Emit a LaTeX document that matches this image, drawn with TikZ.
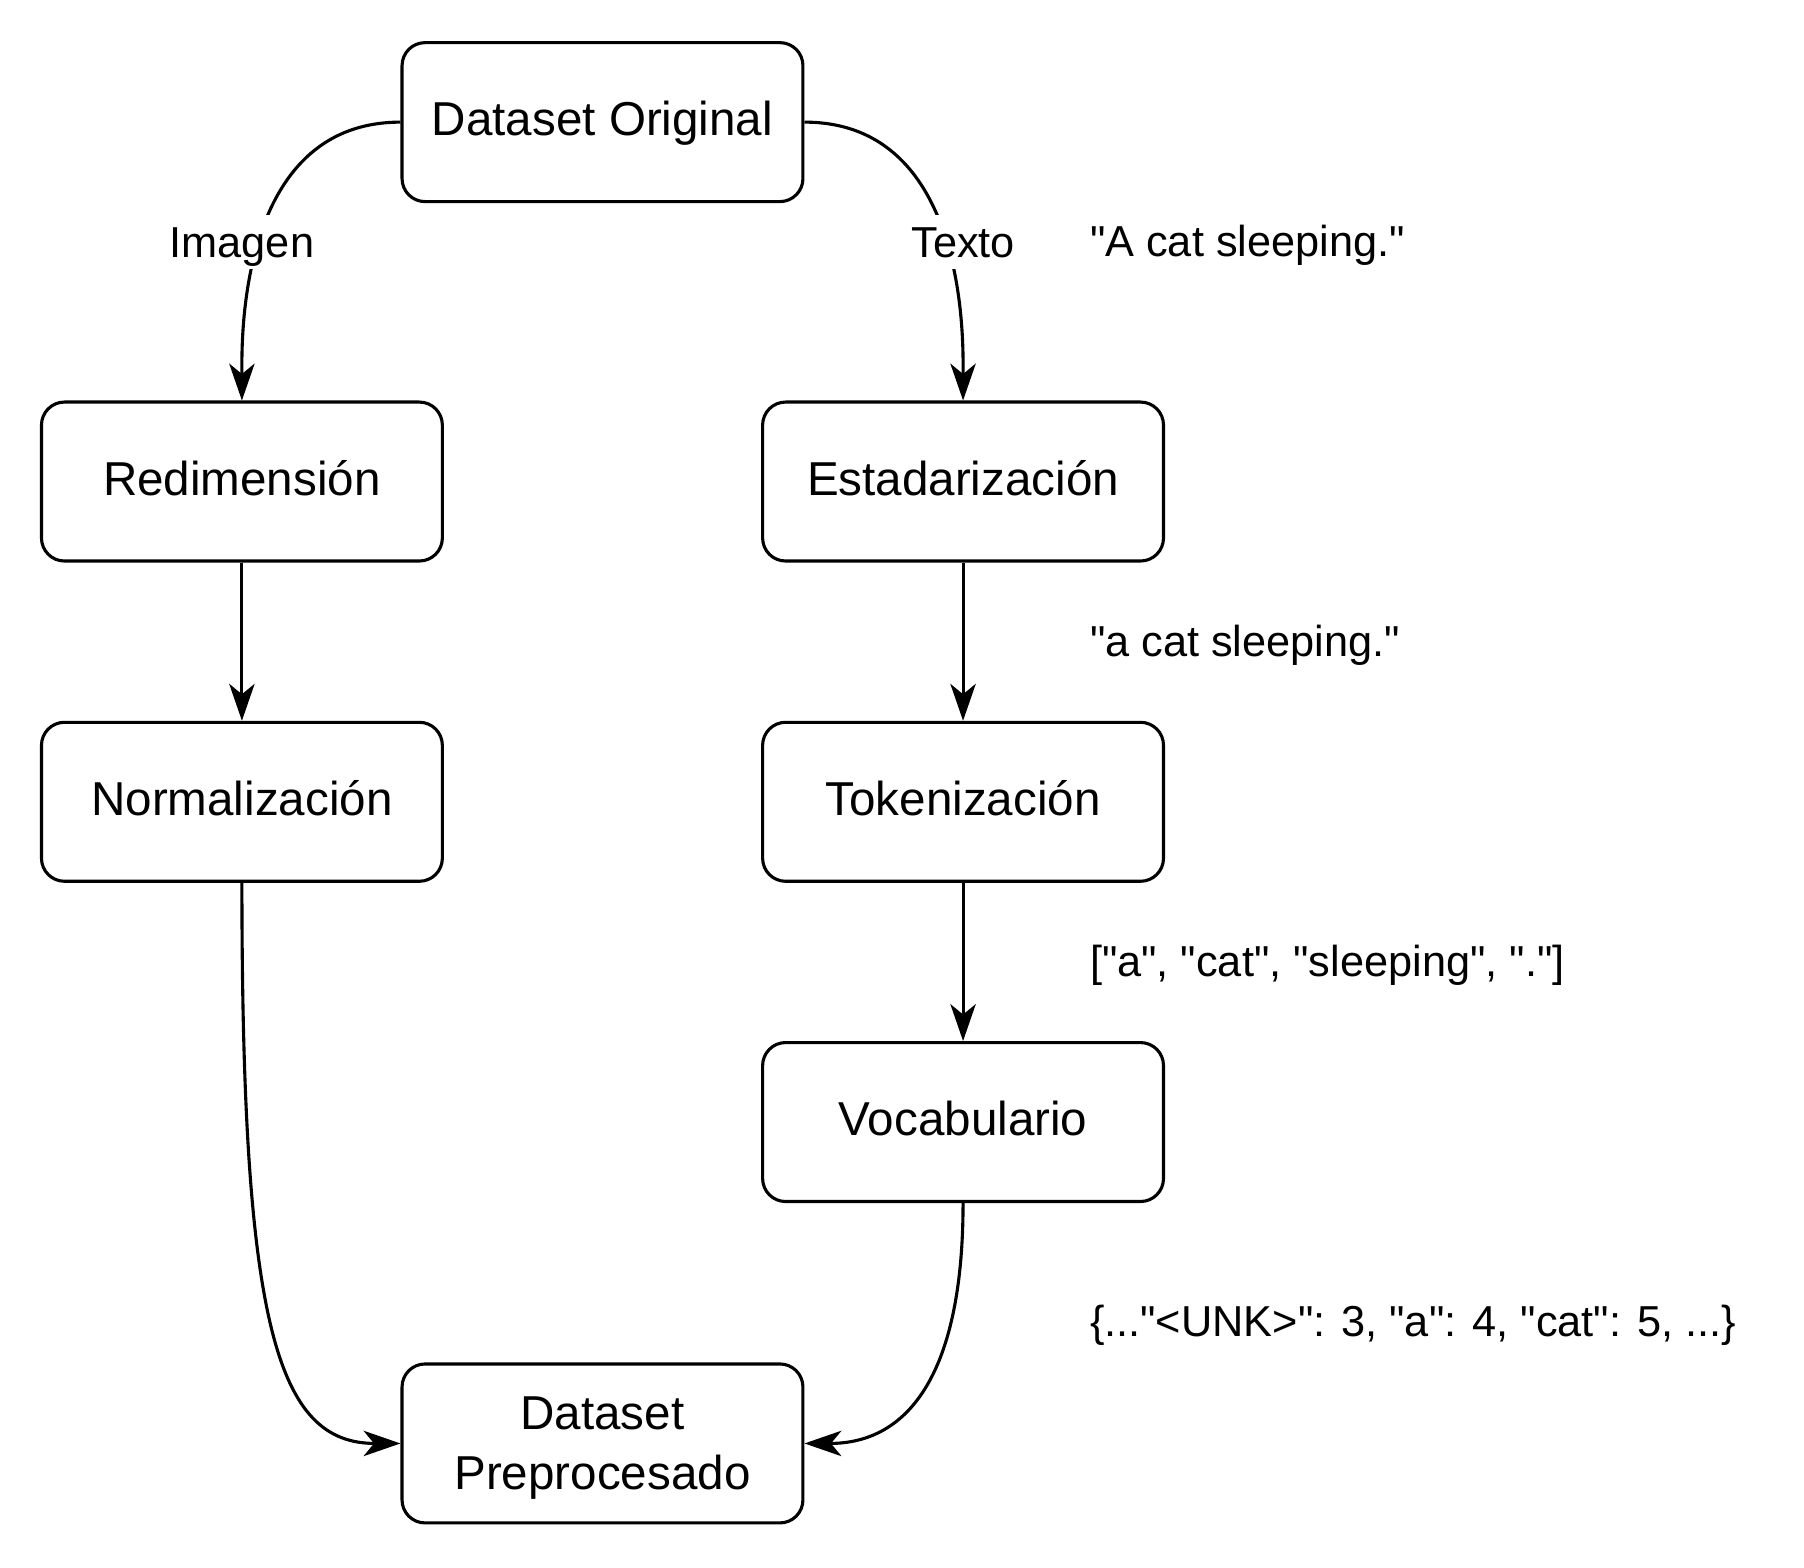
\documentclass[tikz,border=0pt]{standalone}
\usepackage{fontspec}
\setmainfont{Liberation Sans}[Ligatures=TeXOff]
\usetikzlibrary{arrows.meta}
\newcommand\boxfnt{\fontsize{41.3pt}{52pt}\selectfont}
\newcommand\lblfnt{\fontsize{37.6pt}{45pt}\selectfont}
\tikzset{
  procbox/.style={draw, line width=2.7pt, rounded corners=20pt, minimum width=348pt,
    minimum height=138pt, inner sep=0pt, font=\boxfnt, text height=23.6pt, text depth=0pt},
  edgelbl/.style={fill=white, font=\lblfnt, text height=26.9pt, text depth=0pt, inner xsep=4pt, inner ysep=10pt},
  note/.style={anchor=west, font=\lblfnt, text height=25pt, text depth=0pt, inner sep=0pt},
  conn/.style={line width=2.7pt, -{Stealth[length=32pt, width=22pt, inset=9pt]}}
}
\begin{document}
\begin{tikzpicture}[x=1pt, y=-1pt]
\useasboundingbox (0,0) rectangle (1566,1361);
\node[procbox] (orig) at (523,106) {Dataset Original};
\node[procbox] (redim) at (210,418) {Redimensión};
\node[procbox] (norm) at (210,696) {Normalización};
\node[procbox] (estad) at (836,418) {Estadarización};
\node[procbox] (token) at (836,696) {Tokenización};
\node[procbox] (vocab) at (836,974) {Vocabulario};
\node[procbox, align=center, text height=, text depth=0pt] (prep) at (523,1253) {Dataset\\Preprocesado};

\draw[conn] (orig.west) .. controls (204,106) and (210,302) .. (redim.north);
\draw[conn] (orig.east) .. controls (842,106) and (836,302) .. (estad.north);
\draw[conn] (redim) -- (norm);
\draw[conn] (estad) -- (token);
\draw[conn] (token) -- (vocab);
\draw[conn] (norm.south) .. controls (210,1150) and (240,1253) .. (prep.west);
\draw[conn] (vocab.south) .. controls (836,1190) and (790,1253) .. (prep.east);

\node[edgelbl] (limg) at (210,210) {Imagen};
\node[edgelbl] (ltxt) at (836,210) {Texto};

\node[note] (n1) at (946,210) {"A cat sleeping."};
\node[note] (n2) at (946,557) {"a cat sleeping."};
\node[note] (n3) at (946,835) {["a", "cat", "sleeping", "."]};
\node[note] (n4) at (946,1148) {\{..."<UNK>": 3, "a": 4, "cat": 5, ...\}};
\end{tikzpicture}
\end{document}
